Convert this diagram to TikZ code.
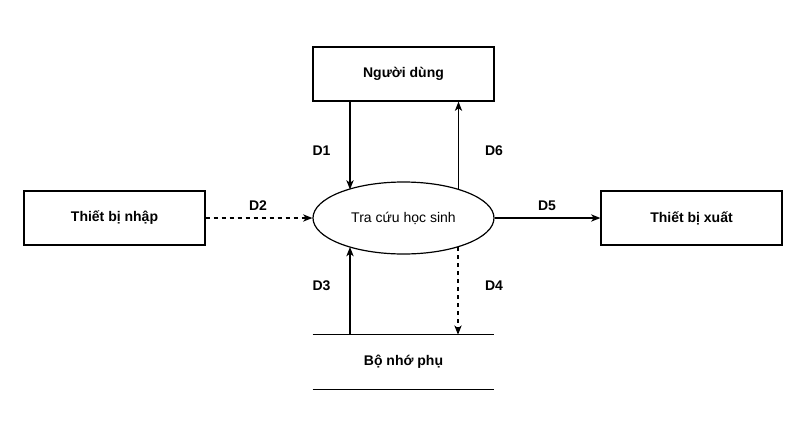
\documentclass[tikz,border=0pt]{standalone}
\usepackage{fontspec}
\setmainfont{Liberation Sans}
\usetikzlibrary{arrows.meta,shapes.geometric}
\begin{document}
\begin{tikzpicture}[x=0.75pt,y=-0.75pt,
  font=\fontsize{10.5}{12}\selectfont,
  every node/.style={inner sep=0pt},
  ent/.style={draw, line width=0.9pt, minimum width=135.75pt, minimum height=40.5pt, font=\fontsize{10.5}{12}\selectfont\bfseries},
  proc/.style={draw, ellipse, line width=0.9pt, minimum width=135.75pt, minimum height=54pt},
  arr/.style={line width=0.9pt, -{Stealth[length=7pt,width=5.5pt,inset=2pt]}},
  darr/.style={arr, dash pattern=on 3pt off 3pt},
  lbl/.style={font=\fontsize{10.5}{12}\selectfont\bfseries}]
\useasboundingbox (0,0) rectangle (808,422);
\node[ent] (user) at (403.5,74) {Người dùng};
\node[ent] (in) at (114.5,218) {Thiết bị nhập};
\node[ent] (out) at (691.5,218) {Thiết bị xuất};
\node[proc] (proc) at (403.5,218) {Tra cứu học sinh};
\node[minimum width=135.75pt, minimum height=40.5pt, font=\fontsize{10.5}{12}\selectfont\bfseries] (store) at (403.5,362) {Bộ nhớ phụ};
\draw[line width=0.9pt] (store.north west) -- (store.north east);
\draw[line width=0.9pt] (store.south west) -- (store.south east);
\coordinate (e1) at (350,189.5);
\coordinate (e6) at (458.5,189.5);
\coordinate (e3) at (350,247);
\coordinate (e4) at (458,247);
\draw[arr] (user.south -| e1) -- (e1);
\draw[arr] (e6) -- (user.south -| e6);
\draw[darr] (in.east) -- (proc.west);
\draw[arr] (proc.east) -- (out.west);
\draw[arr] (store.north -| e3) -- (e3);
\draw[darr] (e4) -- (store.north -| e4);
\node[lbl] (d1) at (321.5,151) {D1};
\node[lbl] (d6) at (494,151) {D6};
\node[lbl] (d2) at (258,206) {D2};
\node[lbl] (d5) at (547,206) {D5};
\node[lbl] (d3) at (321.5,286) {D3};
\node[lbl] (d4) at (494,286) {D4};
\end{tikzpicture}
\end{document}
